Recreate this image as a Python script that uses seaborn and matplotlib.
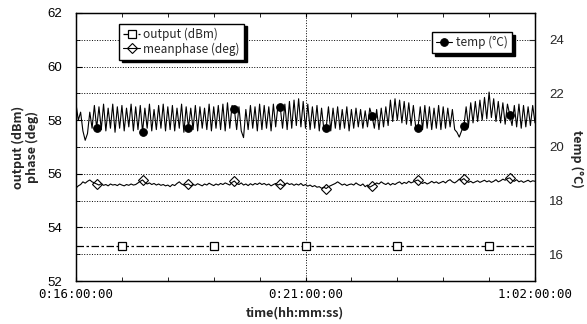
import matplotlib
matplotlib.use('Agg')
import matplotlib.pyplot as plt
from matplotlib.ticker import MultipleLocator, FuncFormatter
import seaborn as sns
import numpy as np
import pandas as pd

# temperature (deg C), sampled every 0.05 h from 16:00 to 26:00
temp = [
    21.60, 21.00, 21.30, 20.60, 20.25, 20.50, 21.30, 20.70, 21.55, 20.71,
    21.50, 20.65, 21.60, 20.60, 21.45, 20.70, 21.60, 20.55, 21.50, 20.70,
    21.55, 20.60, 21.45, 20.75, 21.60, 20.60, 21.50, 20.65, 21.55, 20.56,
    21.45, 20.70, 21.60, 20.60, 21.40, 20.65, 21.55, 20.70, 21.60, 20.60,
    21.50, 20.65, 21.55, 20.60, 21.45, 20.70, 21.60, 20.55, 21.50, 20.71,
    21.45, 20.65, 21.55, 20.60, 21.50, 20.70, 21.45, 20.65, 21.60, 20.60,
    21.50, 20.70, 21.55, 20.65, 21.60, 20.60, 21.65, 20.70, 21.55, 21.40,
    20.65, 21.50, 20.60, 20.35, 21.40, 20.65, 21.55, 20.70, 21.50, 20.60,
    21.60, 20.65, 21.55, 20.70, 21.50, 20.60, 21.60, 20.75, 21.55, 21.48,
    20.70, 21.60, 20.65, 21.70, 20.70, 21.75, 20.80, 21.80, 20.75, 21.70,
    20.70, 21.60, 20.65, 21.50, 20.70, 21.55, 20.60, 21.45, 20.65, 20.71,
    21.50, 20.60, 21.45, 20.70, 21.50, 20.65, 21.40, 20.70, 21.50, 20.60,
    21.40, 20.70, 21.45, 20.75, 21.40, 20.70, 21.35, 20.75, 21.45, 21.15,
    20.70, 21.40, 20.65, 21.45, 20.75, 21.50, 20.80, 21.75, 20.95, 21.80,
    21.00, 21.75, 20.90, 21.70, 20.85, 21.65, 20.80, 21.55, 20.75, 20.71,
    21.50, 20.65, 21.55, 20.70, 21.50, 20.65, 21.45, 20.70, 21.55, 20.65,
    21.50, 20.70, 21.45, 20.75, 21.40, 20.65, 20.55, 20.37, 20.60, 20.78,
    21.50, 20.75, 21.65, 20.90, 21.70, 20.95, 21.75, 21.00, 21.85, 21.05,
    22.05, 21.10, 21.80, 20.95, 21.70, 20.90, 21.65, 20.85, 21.60, 21.19,
    20.80, 21.55, 20.75, 21.60, 20.70, 21.55, 20.75, 21.50, 20.80, 21.55,
    20.90,
]

# mean phase (deg), same sampling
phase = [
    55.47, 55.55, 55.60, 55.70, 55.65, 55.72, 55.77, 55.70, 55.66, 55.62,
    55.58, 55.63, 55.57, 55.60, 55.55, 55.62, 55.58, 55.60, 55.56, 55.62,
    55.58, 55.55, 55.60, 55.57, 55.62, 55.58, 55.60, 55.66, 55.72, 55.77,
    55.68, 55.62, 55.66, 55.60, 55.64, 55.58, 55.62, 55.57, 55.60, 55.55,
    55.58, 55.52, 55.60, 55.56, 55.64, 55.70, 55.62, 55.58, 55.60, 55.62,
    55.55, 55.60, 55.57, 55.63, 55.59, 55.55, 55.62, 55.58, 55.65, 55.60,
    55.56, 55.62, 55.58, 55.64, 55.60, 55.66, 55.62, 55.58, 55.68, 55.73,
    55.64, 55.60, 55.66, 55.58, 55.62, 55.56, 55.63, 55.58, 55.64, 55.60,
    55.66, 55.60, 55.64, 55.58, 55.62, 55.55, 55.60, 55.64, 55.58, 55.62,
    55.56, 55.60, 55.66, 55.60, 55.63, 55.57, 55.62, 55.58, 55.64, 55.56,
    55.60, 55.54, 55.58, 55.52, 55.56, 55.50, 55.52, 55.46, 55.50, 55.45,
    55.52, 55.56, 55.60, 55.64, 55.70, 55.64, 55.58, 55.62, 55.56, 55.60,
    55.62, 55.58, 55.66, 55.60, 55.56, 55.62, 55.52, 55.58, 55.50, 55.55,
    55.60, 55.66, 55.62, 55.70, 55.64, 55.60, 55.66, 55.58, 55.64, 55.60,
    55.66, 55.70, 55.62, 55.68, 55.64, 55.72, 55.66, 55.70, 55.74, 55.77,
    55.70, 55.64, 55.68, 55.62, 55.66, 55.72, 55.66, 55.70, 55.64, 55.68,
    55.72, 55.66, 55.74, 55.78, 55.70, 55.66, 55.72, 55.80, 55.76, 55.82,
    55.74, 55.68, 55.72, 55.66, 55.70, 55.74, 55.68, 55.72, 55.76, 55.70,
    55.74, 55.68, 55.72, 55.78, 55.70, 55.74, 55.80, 55.76, 55.82, 55.85,
    55.76, 55.72, 55.78, 55.70, 55.74, 55.68, 55.72, 55.76, 55.70, 55.74,
    55.72,
]

# output power (dBm), hourly
out_hours = [16, 17, 18, 19, 20, 21, 22, 23, 24, 25, 26]
output = [53.3, 53.3, 53.3, 53.3, 53.3, 53.3, 53.3, 53.3, 53.3, 53.3, 53.3]

# labelled time ticks (hours)
time_ticks = [16, 21, 26]

hours = np.linspace(16, 26, len(temp))
df_fast = pd.DataFrame({'time': hours, 'temp': temp, 'phase': phase})
df_out = pd.DataFrame({'time': out_hours, 'output': output})

sns.set_style('ticks')
plt.rcParams['font.family'] = ['Liberation Sans', 'DejaVu Sans']
jp = ['Noto Sans CJK JP', 'DejaVu Sans']

fig = plt.figure(figsize=(5.87, 3.24), dpi=100)
ax = fig.add_axes([0.1295, 0.1327, 0.7819, 0.8272])
ax2 = ax.twinx()

sns.lineplot(data=df_out, x='time', y='output', ax=ax, color='black',
             lw=0.9, linestyle=(0, (6, 2, 2, 2)), marker='s', markersize=6,
             markerfacecolor='white', markeredgecolor='black', markeredgewidth=0.9,
             markevery=(1, 2), estimator=None, label='output (dBm)')
sns.lineplot(data=df_fast, x='time', y='phase', ax=ax, color='black',
             lw=0.8, marker='D', markersize=5.5, markerfacecolor='none',
             markeredgecolor='black', markeredgewidth=0.8,
             markevery=(9, 20), estimator=None, label='meanphase (deg)')
sns.lineplot(data=df_fast, x='time', y='temp', ax=ax2, color='black',
             lw=0.8, marker='o', markersize=5.5, markerfacecolor='black',
             markeredgecolor='black', markevery=(9, 20), estimator=None,
             label='temp (°C)')

ax.set_xlim(16, 26)
ax.set_ylim(52, 62)
ax2.set_ylim(15, 25)

ax.set_xticks(time_ticks)
ax.xaxis.set_minor_locator(MultipleLocator(1))
ax.yaxis.set_major_locator(MultipleLocator(2))
ax.yaxis.set_minor_locator(MultipleLocator(1))
ax2.set_yticks([16, 18, 20, 22, 24])
ax2.yaxis.set_minor_locator(MultipleLocator(1))


def hms(v, pos):
    d, h = divmod(int(round(v)), 24)
    return '%d:%02d:00:00' % (d, h)


ax.xaxis.set_major_formatter(FuncFormatter(hms))
ax.set_xlabel('')
ax.set_ylabel('')
ax2.set_ylabel('')

ax.grid(True, which='both', axis='y', linestyle=':', color='black', lw=0.7)
ax.grid(True, which='major', axis='x', linestyle=':', color='black', lw=0.7)

for a in (ax, ax2):
    for s in a.spines.values():
        s.set_visible(True)
        s.set_color('black')
        s.set_linewidth(0.9)
ax.tick_params(which='both', direction='in', top=True, right=False,
               labelsize=9.5, colors='black')
ax.tick_params(which='major', length=4)
ax.tick_params(which='minor', length=3)
ax.tick_params(axis='x', which='both', length=3, pad=5)
ax2.tick_params(which='both', direction='in', labelsize=9.5, pad=10)
ax2.tick_params(which='major', length=4)
ax2.tick_params(which='minor', length=3)
ax.tick_params(axis='y', pad=10)
for t in ax.get_xticklabels():
    t.set_family(['DejaVu Sans Mono'])
    t.set_fontsize(9)

leg_kw = dict(prop={'family': jp, 'size': 8.5}, frameon=True, fancybox=False,
              edgecolor='black', framealpha=1,
              shadow={'color': 'black', 'alpha': 1, 'ox': 2, 'oy': -2},
              handlelength=1.4, handletextpad=0.3, labelspacing=0.1,
              borderpad=0.35, borderaxespad=0)
h1, l1 = ax.get_legend_handles_labels()
ax.legend(h1, l1, loc='upper left', bbox_to_anchor=(0.094, 0.96), **leg_kw)
h2, l2 = ax2.get_legend_handles_labels()
ax2.legend(h2, l2, loc='upper right', bbox_to_anchor=(0.95, 0.93), **leg_kw)

plt.figtext(0.043, 0.546, 'output (dBm)\nphase (deg)', rotation=90,
            ha='center', va='center', family=jp, fontsize=9, weight='bold',
            linespacing=1.1)
plt.figtext(0.503, 0.034, 'time(hh:mm:ss)', ha='center', va='center',
            family=jp, fontsize=9, weight='bold')
plt.figtext(0.982, 0.51, 'temp (°C)', rotation=-90, ha='center', va='center',
            family=jp, fontsize=9, weight='bold')

fig.savefig('out.png', dpi=100)
